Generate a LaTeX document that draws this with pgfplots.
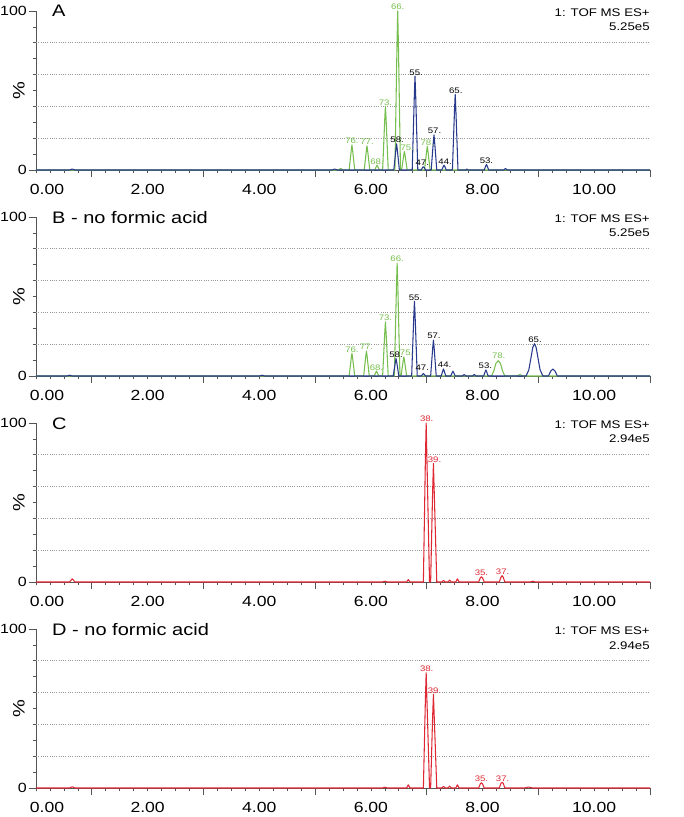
\documentclass[border=0pt]{standalone}
\usepackage{fontspec}
\setmainfont{Liberation Sans}[FakeStretch=1.2]
\usepackage{pgfplots}
\pgfplotsset{compat=1.18}

\definecolor{lcgreen}{RGB}{118,190,78}
\definecolor{lcblue}{RGB}{40,58,140}
\definecolor{lcred}{RGB}{222,40,52}
\definecolor{axgray}{RGB}{85,85,85}

\tikzset{
  lab/.style={anchor=south, inner sep=0.6pt, font=\fontsize{6}{7}\selectfont},
  ttl/.style={anchor=base west, yshift=-4.5pt, inner sep=0pt, font=\fontsize{12.5}{14}\selectfont},
  inf/.style={anchor=north east, align=right, inner sep=0pt, yshift=2pt,
    font=\fontsize{8.3}{11}\selectfont},
}

\pgfplotsset{
  chrom/.style={
    scale only axis, width=460.5pt, height=119.25pt,
    xmin=0, xmax=11, ymin=0, ymax=100,
    clip=false,
    axis x line*=bottom, axis y line*=left,
    axis line style={axgray, line width=0.6pt},
    tick align=outside,
    tick style={axgray, line width=0.5pt},
    major tick length=5.5pt, minor tick length=2.5pt,
    xtick={1,3,5,7,9,11}, xticklabels={},
    minor xtick={0,0.25,...,11},
    extra x ticks={0,2,4,6,8,10},
    extra x tick labels={\hspace*{16.5pt}0.00,2.00,4.00,6.00,8.00,10.00},
    extra x tick style={major tick length=2.5pt},
    ytick={0,100}, yticklabels={0,100},
    minor ytick={10,20,...,90},
    extra y ticks={20,40,60,80}, extra y tick labels={},
    extra y tick style={grid=major, major tick length=0pt,
      major grid style={gray!80, line width=0.5pt, dash pattern=on 0.6pt off 1.1pt}},
    x tick label style={font=\fontsize{11}{12}\selectfont, yshift=-4.5pt},
    y tick label style={font=\fontsize{10}{12}\selectfont, inner sep=1.2pt},
    ylabel={\%},
    ylabel style={at={(axis description cs:-0.028,0.5)}, anchor=center,
      font=\fontsize{12.5}{13}\selectfont},
    every axis plot/.append style={line width=0.8pt, line join=round},
  },
}

\begin{document}
\begin{tikzpicture}
\path[use as bounding box] (-27pt,127.5pt) rectangle (486pt,-485.25pt);

% ---------------- A
\begin{axis}[chrom, name=A, at={(0pt,0pt)}, anchor=south west]
\addplot[lcgreen] coordinates {
(0,0) (5.42,0) (5.46,1) (5.5,0)
(5.61,0) (5.648,12.5) (5.66,15.8) (5.672,12.5) (5.71,0)
(5.88,0) (5.918,12) (5.93,15.2) (5.942,12) (5.98,0)
(6.07,0) (6.1,2.4) (6.11,3) (6.12,2.4) (6.15,0)
(6.21,0) (6.248,32) (6.26,40) (6.272,32) (6.31,0)
(6.43,0) (6.468,80) (6.48,100) (6.492,80) (6.53,0)
(6.55,0) (6.588,9.3) (6.60,11.6) (6.612,9.3) (6.65,0)
(6.96,0) (6.998,11.8) (7.01,14.8) (7.022,11.8) (7.06,0)
(11,0)};
\addplot[lcblue] coordinates {
(0,0) (0.6,0) (0.65,0.6) (0.7,0)
(5.3,0) (5.35,0.6) (5.4,0)
(6.41,0) (6.448,13) (6.46,16.5) (6.472,13) (6.51,0)
(6.74,0) (6.778,47) (6.79,59) (6.802,47) (6.84,0)
(6.90,0) (6.93,1.8) (6.94,2) (6.95,1.8) (6.98,0)
(7.08,0) (7.118,17.5) (7.13,22) (7.142,17.5) (7.18,0)
(7.27,0) (7.30,2.5) (7.31,3) (7.32,2.5) (7.35,0)
(7.46,0) (7.498,38) (7.51,47.5) (7.522,38) (7.56,0)
(7.7,0) (7.72,0.6) (7.74,0)
(8.03,0) (8.06,2.8) (8.07,3.4) (8.08,2.8) (8.11,0)
(8.38,0) (8.41,1) (8.44,0)
(11,0)};
\node[lab, lcgreen] at (axis cs:5.66,15.8) {76.};
\node[lab, lcgreen] at (axis cs:5.93,15.2) {77.};
\node[lab, lcgreen] at (axis cs:6.11,3) {68.};
\node[lab, lcgreen] at (axis cs:6.26,40) {73.};
\node[lab, lcgreen] at (axis cs:6.48,100) {66.};
\node[lab, lcgreen] at (axis cs:6.65,11.6) {75.};
\node[lab, lcgreen] at (axis cs:7.01,14.8) {78.};
\node[lab] at (axis cs:6.47,16.5) {58.};
\node[lab] at (axis cs:6.81,59) {55.};
\node[lab] at (axis cs:6.92,2) {47.};
\node[lab] at (axis cs:7.14,22) {57.};
\node[lab] at (axis cs:7.33,3) {44.};
\node[lab] at (axis cs:7.52,47.5) {65.};
\node[lab] at (axis cs:8.07,3.4) {53.};
\node[ttl] at (rel axis cs:0.026,1) {A};
\node[inf] at (rel axis cs:1,1) {1: TOF MS ES+\\5.25e5};
\end{axis}

% ---------------- B
\begin{axis}[chrom, name=B, at={(0pt,-154.5pt)}, anchor=south west]
\addplot[lcgreen] coordinates {
(0,0)
(5.61,0) (5.648,11.4) (5.66,14.3) (5.672,11.4) (5.71,0)
(5.87,0) (5.908,12.5) (5.92,15.7) (5.932,12.5) (5.97,0)
(6.06,0) (6.09,2.4) (6.10,3) (6.11,2.4) (6.14,0)
(6.21,0) (6.248,27) (6.26,34) (6.272,27) (6.31,0)
(6.42,0) (6.458,57) (6.47,71) (6.482,57) (6.52,0)
(6.54,0) (6.578,9.6) (6.59,12) (6.602,9.6) (6.64,0)
(8.16,0) (8.20,3) (8.24,8) (8.28,9.6) (8.32,8) (8.36,3) (8.40,0)
(8.62,0) (8.67,1) (8.72,0)
(11,0)};
\addplot[lcblue] coordinates {
(0,0) (0.55,0) (0.6,0.5) (0.65,0)
(4.0,0) (4.05,0.5) (4.1,0)
(6.40,0) (6.438,8.8) (6.45,11) (6.462,8.8) (6.50,0)
(6.73,0) (6.768,37.5) (6.78,47) (6.792,37.5) (6.83,0)
(6.90,0) (6.93,1.2) (6.94,1.5) (6.95,1.2) (6.98,0)
(7.07,0) (7.108,18) (7.12,22.6) (7.132,18) (7.17,0)
(7.26,0) (7.29,3.5) (7.30,4.4) (7.31,3.5) (7.34,0)
(7.43,0) (7.46,2.4) (7.47,3) (7.48,2.4) (7.51,0)
(7.64,0) (7.67,1) (7.70,0)
(7.82,0) (7.85,1) (7.88,0)
(8.02,0) (8.05,3) (8.06,3.8) (8.07,3) (8.10,0)
(8.78,0) (8.83,4) (8.87,12) (8.90,18) (8.93,20.3) (8.96,18) (8.99,12) (9.03,4) (9.08,0)
(9.18,0) (9.22,3) (9.26,4.4) (9.30,3) (9.34,0)
(11,0)};
\node[lab, lcgreen] at (axis cs:5.66,14.3) {76.};
\node[lab, lcgreen] at (axis cs:5.92,15.7) {77.};
\node[lab, lcgreen] at (axis cs:6.10,3) {68.};
\node[lab, lcgreen] at (axis cs:6.26,34) {73.};
\node[lab, lcgreen] at (axis cs:6.47,71) {66.};
\node[lab, lcgreen] at (axis cs:6.64,12) {75.};
\node[lab, lcgreen] at (axis cs:8.29,10.5) {78.};
\node[lab] at (axis cs:6.45,11) {58.};
\node[lab] at (axis cs:6.80,47) {55.};
\node[lab] at (axis cs:6.92,2.5) {47.};
\node[lab] at (axis cs:7.13,22.6) {57.};
\node[lab] at (axis cs:7.32,4.4) {44.};
\node[lab] at (axis cs:8.05,3.8) {53.};
\node[lab] at (axis cs:8.94,20.3) {65.};
\node[ttl] at (rel axis cs:0.026,1) {B - no formic acid};
\node[inf] at (rel axis cs:1,1) {1: TOF MS ES+\\5.25e5};
\end{axis}

% ---------------- C
\begin{axis}[chrom, name=C, at={(0pt,-309pt)}, anchor=south west]
\addplot[lcred] coordinates {
(0,0) (0.6,0) (0.65,2) (0.7,0)
(6.2,0) (6.25,0.5) (6.3,0)
(6.64,0) (6.67,1.5) (6.70,0)
(6.94,0) (6.975,75) (6.99,100) (7.005,75) (7.05,0)
(7.07,0) (7.105,56) (7.12,74.6) (7.135,56) (7.18,0)
(7.27,0) (7.30,1) (7.33,0) (7.38,0) (7.41,1.2) (7.44,0) (7.52,0) (7.55,2) (7.58,0)
(7.93,0) (7.96,2.6) (7.98,3.3) (8.00,2.6) (8.03,0)
(8.30,0) (8.33,3) (8.35,4) (8.37,3) (8.40,0)
(8.85,0) (8.9,0.5) (8.95,0)
(11,0)};
\node[lab, lcred] at (axis cs:7.0,100) {38.};
\node[lab, lcred] at (axis cs:7.14,74.6) {39.};
\node[lab, lcred] at (axis cs:7.98,3.3) {35.};
\node[lab, lcred] at (axis cs:8.36,4) {37.};
\node[ttl] at (rel axis cs:0.026,1) {C};
\node[inf] at (rel axis cs:1,1) {1: TOF MS ES+\\2.94e5};
\end{axis}

% ---------------- D
\begin{axis}[chrom, name=D, at={(0pt,-463.5pt)}, anchor=south west]
\addplot[lcred] coordinates {
(0,0) (0.6,0) (0.65,0.8) (0.7,0)
(6.2,0) (6.25,0.5) (6.3,0)
(6.64,0) (6.67,2) (6.70,0)
(6.94,0) (6.975,54) (6.99,72.5) (7.005,54) (7.05,0)
(7.07,0) (7.105,44) (7.12,59) (7.135,44) (7.18,0)
(7.27,0) (7.30,1) (7.33,0) (7.38,0) (7.41,1.2) (7.44,0) (7.52,0) (7.55,2) (7.58,0)
(7.93,0) (7.96,2.6) (7.98,3.3) (8.00,2.6) (8.03,0)
(8.30,0) (8.33,3) (8.35,3.6) (8.37,3) (8.40,0)
(8.75,0) (8.82,0.6) (8.9,0)
(11,0)};
\node[lab, lcred] at (axis cs:7.0,72.5) {38.};
\node[lab, lcred] at (axis cs:7.14,59) {39.};
\node[lab, lcred] at (axis cs:7.98,3.3) {35.};
\node[lab, lcred] at (axis cs:8.36,3.6) {37.};
\node[ttl] at (rel axis cs:0.026,1) {D - no formic acid};
\node[inf] at (rel axis cs:1,1) {1: TOF MS ES+\\2.94e5};
\end{axis}
\end{tikzpicture}
\end{document}
